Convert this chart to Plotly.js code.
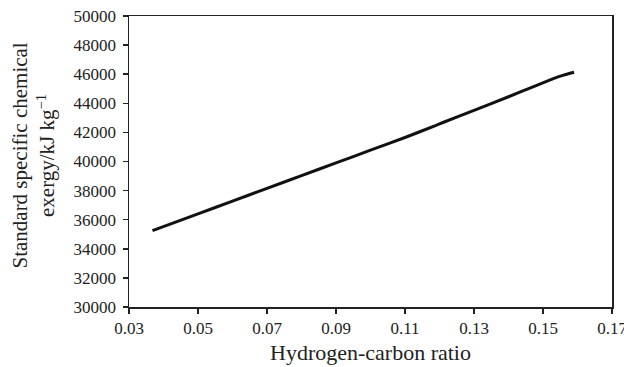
<!DOCTYPE html>
<html>
<head>
<meta charset="utf-8">
<script src="https://cdn.plot.ly/plotly-3.0.1.min.js"></script>
<style>html,body{margin:0;padding:0;background:#fff;}#chart{width:624px;height:367px;}</style>
</head>
<body>
<div id="chart"></div>
<script>
const hcRatio = [0.0368, 0.05, 0.06, 0.07, 0.08, 0.09, 0.10, 0.11, 0.119, 0.121, 0.13, 0.14, 0.148, 0.153, 0.156, 0.159];
const exergy  = [35250, 36400, 37280, 38150, 39030, 39900, 40780, 41650, 42480, 42680, 43520, 44450, 45220, 45700, 45940, 46130];
const xTicks = [0.03, 0.05, 0.07, 0.09, 0.11, 0.13, 0.15, 0.17];
const xTickText = ['0.03', '0.05', '0.07', '0.09', '0.11', '0.13', '0.15', '0.17'];
const yTicks = [30000, 32000, 34000, 36000, 38000, 40000, 42000, 44000, 46000, 48000, 50000];
const yTickText = ['30000', '32000', '34000', '36000', '38000', '40000', '42000', '44000', '46000', '48000', '50000'];

const font = 'Liberation Serif, Times New Roman, serif';
const trace = {
  x: hcRatio, y: exergy, type: 'scatter', mode: 'lines',
  line: {color: '#111', width: 3, shape: 'spline', smoothing: 0.3},
  hoverinfo: 'skip'
};
const layout = {
  width: 624, height: 367,
  margin: {l: 129, r: 12, t: 16, b: 60},
  paper_bgcolor: '#fff', plot_bgcolor: '#fff',
  showlegend: false,
  font: {family: font, color: '#222', size: 17},
  xaxis: {
    range: [0.03, 0.17], tickvals: xTicks, ticktext: xTickText,
    showgrid: false, zeroline: false,
    showline: true, linecolor: '#222', linewidth: 1.5, mirror: true,
    ticks: 'outside', ticklen: 5, tickwidth: 1.5, tickcolor: '#222',
    ticklabeloverflow: 'allow',
    tickfont: {family: font, size: 17, color: '#222'}
  },
  yaxis: {
    range: [30000, 50000], tickvals: yTicks, ticktext: yTickText,
    showgrid: false, zeroline: false,
    showline: true, linecolor: '#222', linewidth: 1.5, mirror: true,
    ticks: 'outside', ticklen: 5, tickwidth: 1.5, tickcolor: '#222',
    ticklabelstandoff: 3, ticklabeloverflow: 'allow',
    tickfont: {family: font, size: 17, color: '#222'}
  },
  annotations: [{
    text: 'Standard specific chemical<br>exergy/kJ kg<sup>−1</sup>',
    xref: 'paper', yref: 'paper', x: -0.197, y: 0.52,
    xanchor: 'center', yanchor: 'middle', textangle: -90, showarrow: false,
    font: {family: font, size: 21, color: '#222'}
  }, {
    text: 'Hydrogen-carbon ratio',
    xref: 'paper', yref: 'paper', x: 0.5, y: -0.158,
    xanchor: 'center', yanchor: 'middle', showarrow: false,
    font: {family: font, size: 22, color: '#222'}
  }]
};
Plotly.newPlot('chart', [trace], layout, {staticPlot: true, displayModeBar: false});
</script>
</body>
</html>
